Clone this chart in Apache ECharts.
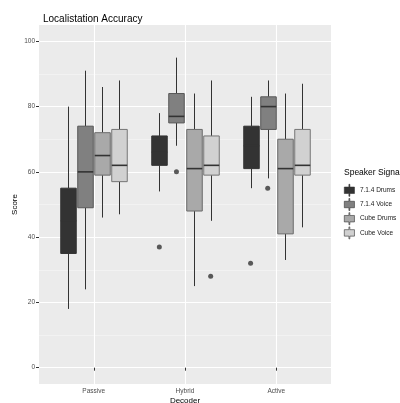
<!DOCTYPE html>
<html><head><meta charset="utf-8">
<script src="https://cdn.jsdelivr.net/npm/echarts@6/dist/echarts.min.js"></script>
<style>html,body{margin:0;padding:0;background:#fff}#c{width:400px;height:403px}</style>
</head><body><div id="c"></div>
<script>
// ---- data ----
const categories = ['Passive', 'Hybrid', 'Active'];
const groups = ['7.1.4 Drums', '7.1.4 Voice', 'Cube Drums', 'Cube Voice'];
// [lower whisker, Q1, median, Q3, upper whisker] per category
const drums714 = [[18, 35, 45, 55, 80], [54, 62, 66, 71, 78], [55, 61, 68, 74, 83]];
const voice714 = [[24, 49, 60, 74, 91], [68, 75, 77, 84, 95], [58, 73, 80, 83, 88]];
const cubeDrums = [[46, 59, 65, 72, 86], [25, 48, 61, 73, 84], [33, 41, 61, 70, 84]];
const cubeVoice = [[47, 57, 62, 73, 88], [45, 59, 62, 71, 88], [43, 59, 62, 73, 87]];
// outliers: [category index, value]
const outDrums714 = [[1, 37], [2, 32]];
const outVoice714 = [[1, 60], [2, 55]];
const outCubeDrums = [];
const outCubeVoice = [[1, 28]];
const yTicks = [0, 20, 40, 60, 80, 100];
const yMinor = [10, 30, 50, 70, 90];

// ---- styling ----
const fills = ['#333333', '#808080', '#a9a9a9', '#d1d1d1'];
const borders = ['#333333', '#575757', '#6a6a6a', '#757575'];
const DODGE = 0.1875, BOX_W = 0.17;
const stats = [drums714, voice714, cubeDrums, cubeVoice];
const outs = [outDrums714, outVoice714, outCubeDrums, outCubeVoice];
const FONT = '"Liberation Sans", Arial, sans-serif';

function makeRender(gi) {
  const offset = (gi - 1.5) * DODGE;
  return function (params, api) {
    const x = api.value(0) + offset;
    const lo = api.coord([x, api.value(1)]);
    const q1 = api.coord([x, api.value(2)]);
    const md = api.coord([x, api.value(3)]);
    const q3 = api.coord([x, api.value(4)]);
    const hi = api.coord([x, api.value(5)]);
    const hw = api.size([BOX_W, 0])[0] / 2;
    const cx = Math.round(md[0]) + 0.5;
    const ls = { stroke: '#333333', lineWidth: 1, fill: null };
    return {
      type: 'group', children: [
        { type: 'line', shape: { x1: cx, y1: hi[1], x2: cx, y2: q3[1] }, style: ls, z2: 1 },
        { type: 'line', shape: { x1: cx, y1: q1[1], x2: cx, y2: lo[1] }, style: ls, z2: 1 },
        { type: 'rect', shape: { x: cx - hw, y: q3[1], width: 2 * hw, height: q1[1] - q3[1] },
          style: { fill: fills[gi], stroke: borders[gi], lineWidth: 1, opacity: 1 }, z2: 2 },
        { type: 'line', shape: { x1: cx - hw, y1: md[1], x2: cx + hw, y2: md[1] },
          style: { stroke: '#333333', lineWidth: 1.6, fill: null }, z2: 3 }
      ]
    };
  };
}

const series = [];
// grid lines
series.push({
  type: 'scatter', data: [], z: 0, silent: true,
  markLine: {
    z: 0, silent: true, symbol: 'none', label: { show: false }, animation: false,
    data: [
      ...yMinor.map(v => ({ yAxis: v, lineStyle: { color: '#f7f7f7', width: 0.6, type: 'solid' } })),
      ...yTicks.map(v => ({ yAxis: v, lineStyle: { color: '#ffffff', width: 1.1, type: 'solid' } })),
      ...categories.map((c, i) => ({ xAxis: i + 1, lineStyle: { color: '#ffffff', width: 1.1, type: 'solid' } }))
    ]
  }
});
groups.forEach((g, gi) => {
  series.push({
    type: 'custom', name: g, z: 3,
    itemStyle: { color: fills[gi], borderColor: borders[gi] },
    encode: { x: 0, y: [1, 2, 3, 4, 5] },
    renderItem: makeRender(gi),
    data: stats[gi].map((s, i) => [i + 1, ...s])
  });
  series.push({
    type: 'scatter', name: g + ' outliers', z: 4, symbolSize: 5,
    itemStyle: { color: '#333333' },
    data: outs[gi].map(o => [o[0] + 1 + (gi - 1.5) * DODGE, o[1]])
  });
});

const chart = echarts.init(document.getElementById('c'), null, { renderer: 'canvas' });
chart.setOption({
  animation: false,
  textStyle: { fontFamily: FONT },
  title: [
    { text: 'Localistation Accuracy', left: 38, top: 9,
      textStyle: { fontSize: 10, fontWeight: 'normal', color: '#000', fontFamily: FONT } },
    { text: 'Speaker Signal', left: 339, top: 163,
      textStyle: { fontSize: 8.5, fontWeight: 'normal', color: '#000', fontFamily: FONT } }
  ],
  legend: {
    orient: 'vertical', left: 339, top: 179, itemWidth: 11, itemHeight: 12, itemGap: 1.6,
    icon: 'path://M5,0h1v3h5v7h-5v3h-1v-3h-5v-7h5z',
    textStyle: { fontSize: 6.5, color: '#1a1a1a', fontFamily: FONT },
    data: groups.map((g, gi) => ({ name: g, itemStyle: { color: fills[gi], borderColor: '#333333', borderWidth: 0.6 } }))
  },
  grid: { left: 39, right: 69, top: 25, bottom: 19, show: true, backgroundColor: '#ebebeb', borderWidth: 0,
    outerBoundsMode: 'none', containLabel: false },
  xAxis: {
    type: 'value', min: 0.4, max: 3.6,
    name: 'Decoder', nameLocation: 'middle', nameGap: 13, nameMoveOverlap: false,
    nameTextStyle: { fontSize: 8, color: '#000', fontFamily: FONT },
    axisLine: { show: false },
    axisTick: { show: true, customValues: [1, 2, 3], length: 3, lineStyle: { color: '#333' } },
    axisLabel: { customValues: [1, 2, 3], formatter: v => categories[Math.round(v) - 1] || '',
      fontSize: 6.5, color: '#4d4d4d', margin: 4, fontFamily: FONT },
    splitLine: { show: false }
  },
  yAxis: {
    type: 'value', min: -5, max: 105,
    name: 'Score', nameLocation: 'middle', nameGap: 20, nameRotate: 90, nameMoveOverlap: false,
    nameTextStyle: { fontSize: 8, color: '#000', fontFamily: FONT },
    axisLine: { show: false },
    axisTick: { show: true, customValues: yTicks, length: 3, lineStyle: { color: '#333' } },
    axisLabel: { customValues: yTicks, fontSize: 6.5, color: '#4d4d4d', margin: 4, fontFamily: FONT },
    splitLine: { show: false }
  },
  series: series
});
</script></body></html>
